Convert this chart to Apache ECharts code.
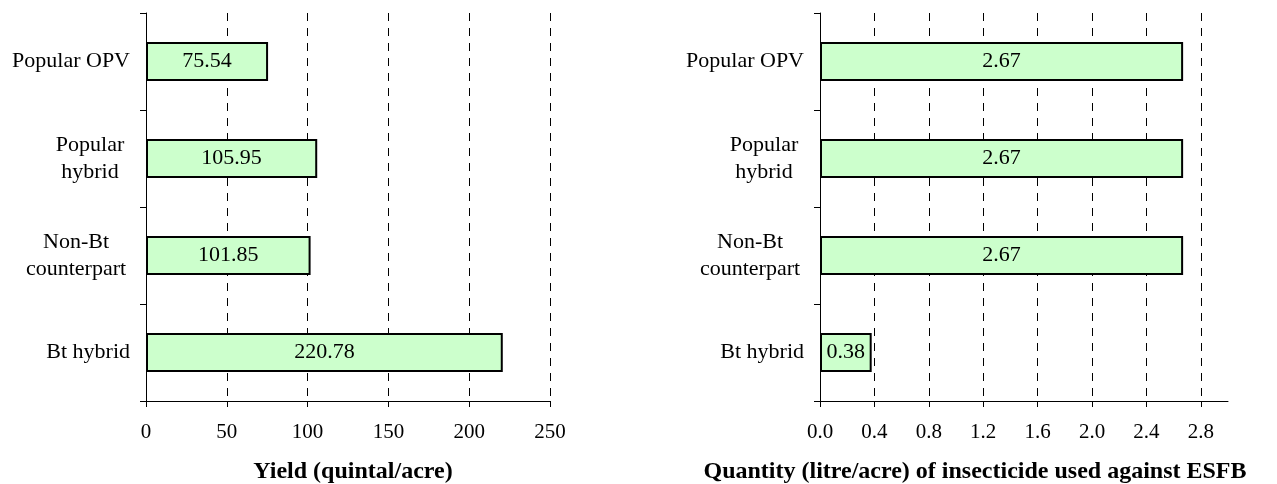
<!DOCTYPE html>
<html>
<head>
<meta charset="utf-8">
<script src="https://cdn.jsdelivr.net/npm/echarts@6/dist/echarts.min.js"></script>
<style>
  html, body { margin: 0; padding: 0; background: #fff; }
  #main { width: 1277px; height: 484px; }
</style>
</head>
<body>
<div id="main"></div>
<script>
// categories, top to bottom
var categories = ['Popular OPV', 'Popular\nhybrid', 'Non-Bt\ncounterpart', 'Bt hybrid']
var yieldValues = [75.54, 105.95, 101.85, 220.78]
var insecticideValues = [2.67, 2.67, 2.67, 0.38]
var yieldTicks = [0, 50, 100, 150, 200, 250]
var insecticideTicks = [0, 0.4, 0.8, 1.2, 1.6, 2.0, 2.4, 2.8]
var yieldTitle = 'Yield (quintal/acre)'
var insecticideTitle = 'Quantity (litre/acre) of insecticide used against ESFB'

var font = "'Liberation Serif', 'Times New Roman', serif"

// two-line labels: lines centred on each other, block right aligned
function catLabel(v) {
  var lines = v.split('\n')
  if (lines.length === 1) return v
  var key = v.indexOf('counterpart') >= 0 ? 'w106' : 'w78'
  return lines.map(function (l) { return '{' + key + '|' + l + '}' }).join('\n')
}

function yAxisCfg(gridIndex) {
  return {
    type: 'category',
    gridIndex: gridIndex,
    data: categories,
    inverse: true,
    axisLine: { show: true, lineStyle: { color: '#000', width: 1 } },
    axisTick: { show: true, length: 6, lineStyle: { color: '#000' } },
    axisLabel: {
      color: '#000',
      fontFamily: font,
      fontSize: 22,
      lineHeight: 27,
      margin: 16,
      formatter: catLabel,
      rich: {
        w78: { width: 80, align: 'center', fontFamily: font, fontSize: 22, lineHeight: 27, color: '#000' },
        w106: { width: 108, align: 'center', fontFamily: font, fontSize: 22, lineHeight: 27, color: '#000' }
      }
    }
  }
}

function xAxisCfg(gridIndex, max, interval, ticks, digits) {
  return {
    type: 'value',
    gridIndex: gridIndex,
    min: 0,
    max: max,
    interval: interval,
    axisLine: { show: true, lineStyle: { color: '#000', width: 1 } },
    axisTick: { show: true, length: 6, customValues: ticks, lineStyle: { color: '#000' } },
    axisLabel: {
      color: '#000',
      fontFamily: font,
      fontSize: 21,
      margin: 21,
      customValues: ticks,
      formatter: function (v) { return v.toFixed(digits) }
    },
    splitLine: {
      show: true,
      customValues: ticks,
      lineStyle: { color: '#000', type: [8, 7], width: 1 }
    }
  }
}

function barSeries(idx, data) {
  return {
    type: 'bar',
    xAxisIndex: idx,
    yAxisIndex: idx,
    data: data,
    barWidth: '40%',
    itemStyle: { color: '#ccffcc', borderColor: '#000', borderWidth: 2 },
    label: {
      show: true,
      position: 'inside',
      color: '#000',
      fontFamily: font,
      fontSize: 22,
      formatter: function (p) { return p.value.toFixed(2) }
    },
    silent: true
  }
}

var chart = echarts.init(document.getElementById('main'), null, { renderer: 'canvas' })
var option = {
  backgroundColor: '#fff',
  animation: false,
  title: [
    {
      text: yieldTitle, left: 348, top: 455, textAlign: 'center',
      textStyle: { fontFamily: font, fontSize: 24, fontWeight: 'bold', color: '#000' }
    },
    {
      text: insecticideTitle, left: 970, top: 455, textAlign: 'center',
      textStyle: { fontFamily: font, fontSize: 24, fontWeight: 'bold', color: '#000' }
    }
  ],
  grid: [
    { left: 146, right: 727, top: 13, bottom: 83 },
    { left: 820, right: 49, top: 13, bottom: 83 }
  ],
  xAxis: [
    xAxisCfg(0, 250, 50, yieldTicks, 0),
    xAxisCfg(1, 3.0, 0.4, insecticideTicks, 1)
  ],
  yAxis: [yAxisCfg(0), yAxisCfg(1)],
  series: [barSeries(0, yieldValues), barSeries(1, insecticideValues)]
}
chart.setOption(option)
</script>
</body>
</html>
